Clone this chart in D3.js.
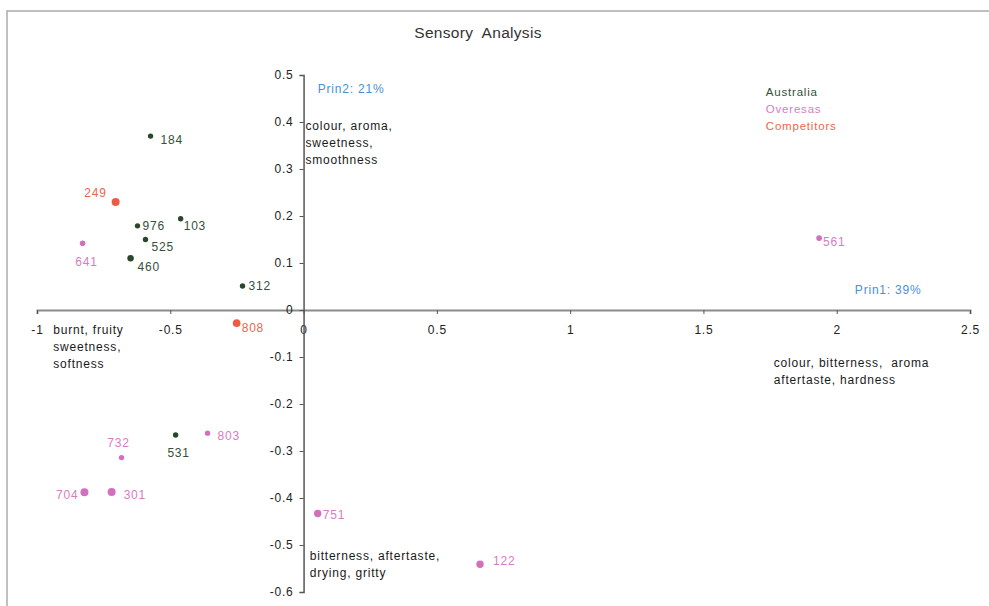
<!DOCTYPE html>
<html>
<head>
<meta charset="utf-8">
<script src="https://cdn.jsdelivr.net/npm/d3@7/dist/d3.min.js"></script>
<style>
  html, body { margin: 0; padding: 0; background: #fff; }
  svg { display: block; font-family: "Liberation Sans", Arial, sans-serif; }
  svg text { white-space: pre; }
</style>
</head>
<body>
<svg id="chart" width="989" height="606"></svg>
<script>
// ---- data ----
const title = "Sensory  Analysis";
const ids    = ["184","249","976","103","525","460","641","312","808","531","803","732","704","301","751","122","561"];
const prin1  = [-0.574,-0.705,-0.623,-0.461,-0.593,-0.649,-0.829,-0.229,-0.251,-0.480,-0.360,-0.683,-0.822,-0.720,0.053,0.662,1.934];
const prin2  = [0.370,0.230,0.179,0.194,0.150,0.110,0.142,0.051,-0.028,-0.266,-0.262,-0.314,-0.388,-0.387,-0.433,-0.541,0.153];
const groups = ["Australia","Competitors","Australia","Australia","Australia","Australia","Overseas","Australia","Competitors","Australia","Overseas","Overseas","Overseas","Overseas","Overseas","Overseas","Overseas"];
const legendLabels = ["Australia","Overesas","Competitors"];
const legendGroups = ["Australia","Overseas","Competitors"];
const xTicks = [-1,-0.5,0,0.5,1,1.5,2,2.5];
const yTicks = [0.5,0.4,0.3,0.2,0.1,0,-0.1,-0.2,-0.3,-0.4,-0.5,-0.6];
const xAxisName = "Prin1: 39%";
const yAxisName = "Prin2: 21%";
const posX = ["colour, bitterness,  aroma","aftertaste, hardness"];
const negX = ["burnt, fruity","sweetness,","softness"];
const posY = ["colour, aroma,","sweetness,","smoothness"];
const negY = ["bitterness, aftertaste,","drying, gritty"];

// ---- styles ----
const colors = { Australia: "#2b472b", Overseas: "#d46fbe", Competitors: "#ef5a47" };
const labelColors = { Australia: "#34503a", Overseas: "#d77cc4", Competitors: "#ef6450" };
// per-point label placement [dx, dy, anchor] and dot radius
const place = {
  "184": [10, 8, "start", 2.7], "249": [-9, -5, "end", 4], "976": [5, 4, "start", 2.7],
  "103": [3, 11, "start", 2.7], "525": [6, 11, "start", 2.7], "460": [7, 13, "start", 3.2],
  "641": [4, 23, "middle", 2.8], "312": [6, 4, "start", 2.7], "808": [5, 9, "start", 3.8],
  "531": [3, 22, "middle", 2.7], "803": [10, 7, "start", 2.7], "732": [-3, -11, "middle", 2.7],
  "704": [-6, 7, "end", 4], "301": [12, 7, "start", 4], "751": [5, 5, "start", 3.7],
  "122": [13, 1, "start", 3.7], "561": [4, 8, "start", 2.9]
};

const svg = d3.select("#chart");
const x = d3.scaleLinear().domain([-1, 2.5]).range([37, 970]);
const y = d3.scaleLinear().domain([-0.6, 0.5]).range([592, 75]);

// outer frame
svg.append("rect").attr("x", 7).attr("y", 11).attr("width", 1000).attr("height", 620)
  .attr("fill", "none").attr("stroke", "#aaa").attr("stroke-width", 1.5);

// title
svg.append("text").attr("x", 478).attr("y", 38).attr("text-anchor", "middle")
  .attr("font-size", 15.5).attr("letter-spacing", 0.3).attr("fill", "#333").text(title);

const fs = 12, ls = 0.8;

// x axis
const xAxis = d3.axisBottom(x).tickValues(xTicks).tickSize(4).tickPadding(11)
  .tickFormat(d => String(d));
const gx = svg.append("g").attr("transform", `translate(0,${y(0)})`).call(xAxis);
gx.select(".domain").attr("stroke", "#8c8c8c").attr("stroke-width", 2);
gx.selectAll(".tick line").attr("stroke", "#555");
gx.selectAll(".tick text").attr("font-size", fs).attr("letter-spacing", ls)
  .attr("fill", "#222").attr("font-family", "Liberation Sans, Arial, sans-serif");

// y axis
const yAxis = d3.axisLeft(y).tickValues(yTicks).tickSize(4).tickPadding(6)
  .tickFormat(d => String(d));
const gy = svg.append("g").attr("transform", `translate(${x(0)},0)`).call(yAxis);
gy.select(".domain").attr("stroke", "#555").attr("stroke-width", 1.5);
gy.selectAll(".tick line").attr("stroke", "#555");
gy.selectAll(".tick text").attr("font-size", fs).attr("letter-spacing", ls)
  .attr("fill", "#222").attr("font-family", "Liberation Sans, Arial, sans-serif");

// annotations
function block(lines, px, py, color, lh) {
  const t = svg.append("text").attr("font-size", fs).attr("letter-spacing", ls).attr("fill", color);
  lines.forEach((l, i) => t.append("tspan").attr("x", px).attr("y", py + i * lh).text(l));
}
block([yAxisName], x(0.053), y(0.462), "#4a8fd6", 17);
block([xAxisName], x(2.068), y(0.034), "#4a8fd6", 17);
block(posY, x(0.007), y(0.383), "#1a1a1a", 17);
block(posX, x(1.764), y(-0.121), "#1a1a1a", 17);
block(negX, x(-0.939), y(-0.051), "#1a1a1a", 17);
block(negY, x(0.023), y(-0.532), "#1a1a1a", 17);

// legend
legendLabels.forEach((l, i) => {
  svg.append("text").attr("x", x(1.734)).attr("y", y(0.455) + i * 17)
    .attr("font-size", fs - 0.5).attr("letter-spacing", ls)
    .attr("fill", labelColors[legendGroups[i]]).text(l);
});

// points
const pts = ids.map((id, i) => ({ id, px: prin1[i], py: prin2[i], g: groups[i] }));
const gp = svg.append("g");
gp.selectAll("circle").data(pts).join("circle")
  .attr("cx", d => x(d.px)).attr("cy", d => y(d.py))
  .attr("r", d => place[d.id][3]).attr("fill", d => colors[d.g]);
gp.selectAll("text").data(pts).join("text")
  .attr("x", d => x(d.px) + place[d.id][0]).attr("y", d => y(d.py) + place[d.id][1])
  .attr("text-anchor", d => place[d.id][2])
  .attr("font-size", fs).attr("letter-spacing", ls)
  .attr("fill", d => labelColors[d.g]).text(d => d.id);
</script>
</body>
</html>
